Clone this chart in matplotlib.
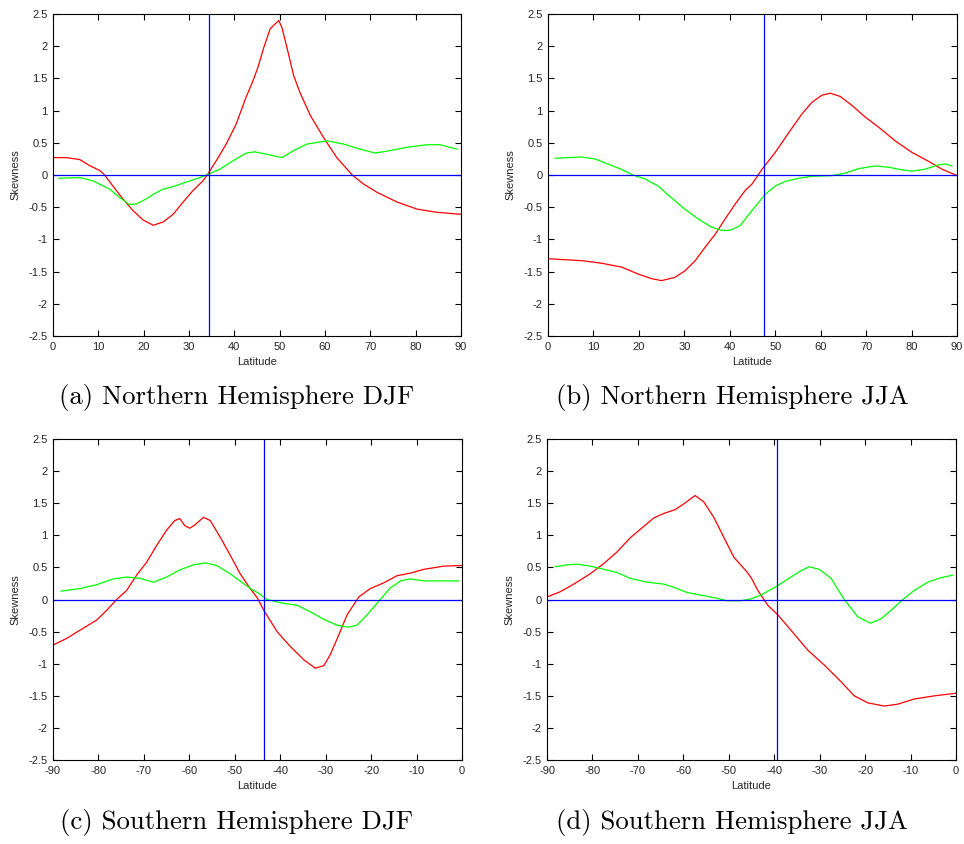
import matplotlib
matplotlib.use("Agg")
import matplotlib.pyplot as plt

# Panel (a) Northern Hemisphere DJF
lat_a_red = [0, 2.9, 5.9, 8.1, 10.3, 11.4, 13.2, 15.4, 17.6, 19.9, 22.1, 24.3, 26.5, 28.7, 30.9, 33.1, 34.2, 36.0,
             38.2, 40.4, 42.6, 44.1, 45.2, 46.5, 47.9, 49.8, 50.5, 51.6, 53.1, 54.6, 56.8, 59.7, 62.6, 66.0,
             68.5, 71.5, 75.9, 80.3, 84.7, 90]
skew_a_red = [0.27, 0.27, 0.24, 0.145, 0.07, 0.0, -0.17, -0.37, -0.55, -0.70, -0.78, -0.73, -0.61, -0.42, -0.24,
              -0.09, 0.02, 0.22, 0.48, 0.79, 1.21, 1.46, 1.67, 1.98, 2.27, 2.40, 2.29, 1.98, 1.54, 1.26, 0.92,
              0.58, 0.27, 0.0, -0.14, -0.27, -0.42, -0.53, -0.58, -0.61]
lat_a_green = [1.3, 5.9, 8.8, 12.5, 14.7, 16.9, 18.4, 20.6, 22.1, 24.3, 26.5, 29.4, 32.4, 34.2, 36.8, 39.7, 42.6,
               44.5, 47.9, 50.5, 53.1, 56.0, 60.4, 64.1, 67.8, 71.1, 74.4, 78.1, 82.5, 85.4, 89.1]
skew_a_green = [-0.05, -0.04, -0.09, -0.22, -0.35, -0.46, -0.45, -0.37, -0.30, -0.22, -0.18, -0.11, -0.04, 0.01,
                0.09, 0.22, 0.34, 0.36, 0.31, 0.27, 0.38, 0.48, 0.53, 0.48, 0.40, 0.34, 0.38, 0.43, 0.47, 0.47, 0.40]
vline_a = 34.4

# Panel (b) Northern Hemisphere JJA
lat_b_red = [0, 7.4, 11.8, 16.2, 19.9, 22.8, 25.0, 27.9, 30.1, 32.4, 34.6, 36.8, 39.0, 41.2, 43.4, 44.9, 47.1,
             50.0, 53.0, 55.9, 58.1, 60.3, 62.1, 64.3, 66.9, 69.8, 72.8, 76.4, 80.1, 83.8, 86.7, 89.7]
skew_b_red = [-1.30, -1.33, -1.37, -1.43, -1.54, -1.61, -1.64, -1.59, -1.49, -1.33, -1.12, -0.92, -0.68, -0.45,
              -0.24, -0.14, 0.09, 0.35, 0.66, 0.95, 1.13, 1.24, 1.27, 1.22, 1.08, 0.90, 0.74, 0.53, 0.35, 0.21,
              0.09, 0.0]
lat_b_green = [1.6, 4.4, 7.3, 10.3, 13.2, 16.1, 18.7, 21.3, 24.2, 27.1, 30.1, 33.0, 36.0, 38.2, 40.0, 42.2, 44.0,
               46.4, 47.8, 50.0, 52.2, 55.2, 58.1, 62.5, 65.4, 68.4, 72.0, 75.0, 77.9, 80.1, 83.0, 86.0, 87.5, 88.9]
skew_b_green = [0.26, 0.27, 0.28, 0.25, 0.17, 0.09, 0.0, -0.06, -0.17, -0.35, -0.53, -0.68, -0.81, -0.86, -0.86,
                -0.79, -0.63, -0.42, -0.30, -0.17, -0.10, -0.05, -0.02, -0.01, 0.03, 0.10, 0.14, 0.12, 0.08, 0.06,
                0.09, 0.16, 0.17, 0.14]
vline_b = 47.5

# Panel (c) Southern Hemisphere DJF
lat_c_red = [-90, -87.1, -84.1, -80.4, -78.2, -76.0, -73.8, -71.6, -69.4, -67.2, -65.0, -63.2, -62.1, -61.0, -59.9,
             -58.8, -56.9, -55.4, -53.2, -51.0, -48.8, -46.6, -45.0, -43.6, -40.7, -37.8, -34.8, -32.3, -30.4,
             -29.0, -27.1, -25.3, -22.7, -20.2, -17.2, -14.3, -11.4, -8.4, -4.0, 0]
skew_c_red = [-0.71, -0.61, -0.48, -0.32, -0.17, 0.0, 0.14, 0.38, 0.58, 0.84, 1.08, 1.23, 1.26, 1.15, 1.11, 1.16,
              1.28, 1.23, 0.97, 0.69, 0.40, 0.17, 0.02, -0.17, -0.50, -0.73, -0.94, -1.07, -1.03, -0.86, -0.55,
              -0.24, 0.04, 0.17, 0.26, 0.37, 0.41, 0.47, 0.52, 0.53]
lat_c_green = [-88.2, -84.1, -80.4, -76.8, -73.8, -70.9, -67.9, -65.0, -62.1, -59.1, -56.5, -54.0, -51.0, -48.1,
               -45.9, -45.0, -42.9, -40.0, -36.3, -33.4, -30.4, -27.5, -24.9, -23.1, -20.9, -18.0, -15.8, -13.5,
               -11.4, -8.4, -4.0, -0.7]
skew_c_green = [0.13, 0.17, 0.23, 0.32, 0.35, 0.33, 0.27, 0.35, 0.46, 0.54, 0.57, 0.53, 0.40, 0.25, 0.14, 0.11,
                0.0, -0.05, -0.09, -0.19, -0.31, -0.40, -0.43, -0.40, -0.24, 0.0, 0.18, 0.29, 0.32, 0.29, 0.29, 0.29]
vline_c = -43.5

# Panel (d) Southern Hemisphere JJA
lat_d_red = [-90, -87.1, -84.1, -80.5, -77.5, -74.6, -71.7, -68.7, -66.5, -64.3, -61.8, -59.9, -57.4, -55.5, -53.3,
             -51.1, -48.9, -46.0, -45.0, -43.6, -41.4, -39.2, -36.3, -32.6, -29.0, -25.3, -22.4, -19.4, -15.8,
             -12.8, -9.2, -4.7, 0]
skew_d_red = [0.04, 0.12, 0.24, 0.40, 0.56, 0.74, 0.96, 1.14, 1.27, 1.34, 1.40, 1.49, 1.62, 1.52, 1.28, 0.97,
              0.66, 0.43, 0.33, 0.14, -0.09, -0.24, -0.48, -0.79, -1.02, -1.28, -1.50, -1.61, -1.66, -1.63, -1.55,
              -1.50, -1.46]
lat_d_green = [-88.2, -85.6, -83.4, -80.5, -77.5, -74.6, -71.7, -68.0, -64.3, -62.1, -59.2, -56.3, -52.6, -50.4,
               -47.4, -45.1, -42.9, -39.6, -36.3, -34.1, -32.3, -30.1, -27.5, -24.6, -21.6, -18.8, -16.5, -14.3,
               -11.7, -9.2, -6.2, -3.3, -0.7]
skew_d_green = [0.51, 0.54, 0.55, 0.52, 0.47, 0.42, 0.33, 0.27, 0.24, 0.19, 0.11, 0.07, 0.02, -0.02, -0.02, 0.01,
                0.07, 0.20, 0.35, 0.45, 0.51, 0.47, 0.33, 0.0, -0.27, -0.37, -0.30, -0.17, 0.0, 0.14, 0.27, 0.34,
                0.38]
vline_d = -39.4

captions = ["(a) Northern Hemisphere DJF", "(b) Northern Hemisphere JJA",
            "(c) Southern Hemisphere DJF", "(d) Southern Hemisphere JJA"]
ytick_vals = [-2.5, -2, -1.5, -1, -0.5, 0, 0.5, 1, 1.5, 2, 2.5]
ytick_labels = ["-2.5", "-2", "-1.5", "-1", "-0.5", "0", "0.5", "1", "1.5", "2", "2.5"]

panels = [
    (lat_a_red, skew_a_red, lat_a_green, skew_a_green, vline_a, (0, 90)),
    (lat_b_red, skew_b_red, lat_b_green, skew_b_green, vline_b, (0, 90)),
    (lat_c_red, skew_c_red, lat_c_green, skew_c_green, vline_c, (-90, 0)),
    (lat_d_red, skew_d_red, lat_d_green, skew_d_green, vline_d, (-90, 0)),
]

W, H = 964, 844
# axes boxes in pixels: left, top, right, bottom
boxes = [(53, 14, 461, 336), (548, 14, 957, 336), (53, 439, 462, 760), (547, 439, 956, 760)]
caption_pos = [(237, 398), (732, 398), (237, 823), (732, 823)]

plt.rcParams["font.family"] = ["Liberation Sans", "DejaVu Sans"]
text_col = "#262626"

fig = plt.figure(figsize=(W / 100, H / 100), dpi=100)

for (lr, sr, lg, sg, vx, xlim), box, cap, cpos in zip(panels, boxes, captions, caption_pos):
    l, t, r, b = box
    ax = fig.add_axes([l / W, 1 - b / H, (r - l) / W, (b - t) / H])
    ax.plot(lr, sr, color=(1, 0, 0), lw=0.9)
    ax.plot(lg, sg, color=(0, 1, 0), lw=0.9)
    ax.axhline(0, color=(0, 0, 1), lw=0.9)
    ax.axvline(vx, color=(0, 0, 1), lw=0.9)
    ax.set_xlim(*xlim)
    ax.set_ylim(-2.5, 2.5)
    xt = list(range(xlim[0], xlim[1] + 1, 10))
    ax.set_xticks(xt)
    ax.set_xticklabels([str(v) for v in xt])
    ax.set_yticks(ytick_vals)
    ax.set_yticklabels(ytick_labels)
    ax.tick_params(direction="in", length=4, width=0.8, top=True, right=True,
                   labelsize=8, colors="black", labelcolor=text_col)
    ax.tick_params(axis="x", pad=4.5)
    ax.tick_params(axis="y", pad=4)
    for s in ax.spines.values():
        s.set_linewidth(0.8)
    ax.set_xlabel("Latitude", fontsize=8, labelpad=3.5, color=text_col)
    ax.set_ylabel("Skewness", fontsize=8, labelpad=6, color=text_col)
    fig.text(cpos[0] / W, 1 - cpos[1] / H, cap, fontsize=19.3, family="cmr10",
             ha="center", va="center")

fig.savefig("out.png", dpi=100)
